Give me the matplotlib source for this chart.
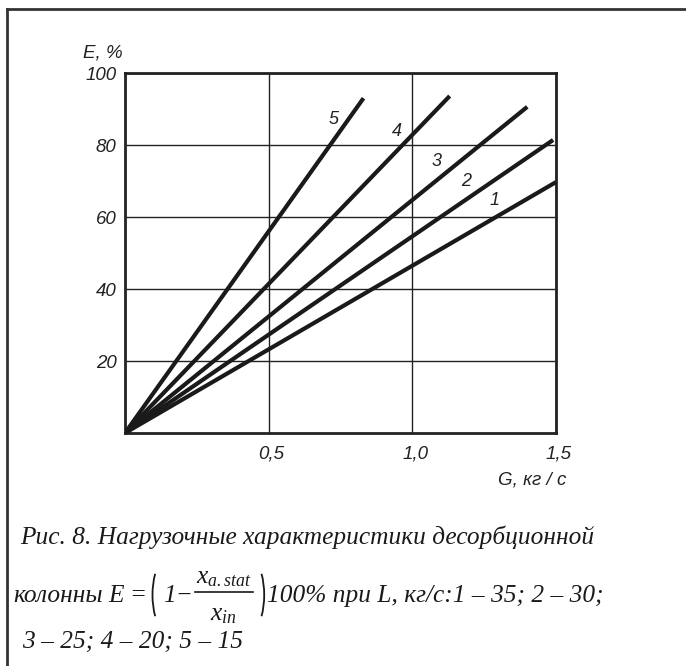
#!/usr/bin/env python3
"""Нагрузочные характеристики десорбционной колонны: E(G) при разных L"""
import matplotlib
matplotlib.use("Agg")
import matplotlib.pyplot as plt
from matplotlib.lines import Line2D
from matplotlib.patches import Arc
import matplotlib.transforms as mtransforms
import numpy as np

plt.rcParams["mathtext.fontset"] = "custom"
plt.rcParams["mathtext.rm"] = "Liberation Serif:italic"
plt.rcParams["mathtext.it"] = "Liberation Serif:italic"

# ---- данные: прямые из начала координат до конечных точек ----
curve_ids = ["1", "2", "3", "4", "5"]
g_end = [1.50, 1.49, 1.40, 1.13, 0.83]      # G, кг/с
e_end = [69.7, 81.4, 90.6, 93.6, 93.0]      # E, %
label_g = [1.30, 1.20, 1.10, 0.96, 0.74]    # где подписывать номер кривой

x_ticks = [0.5, 1.0, 1.5]
x_ticklabels = ["0,5", "1,0", "1,5"]
y_ticks = [20, 40, 60, 80, 100]

W, H = 686, 666
fig = plt.figure(figsize=(W / 100, H / 100), dpi=100)
ax = fig.add_axes([125 / W, 1 - 433 / H, 431 / W, 360 / H])

sans = dict(family="Liberation Sans", style="italic", color="#222222")

for cid, g1, e1, gl in zip(curve_ids, g_end, e_end, label_g):
    ax.plot([0, g1], [0, e1], color="#1a1a1a", lw=3.0, solid_capstyle="butt", zorder=3)
    el = e1 / g1 * gl
    ax.annotate(cid, xy=(gl, el), xytext=(-3, 11), textcoords="offset points",
                ha="center", va="center", fontsize=13, **sans)

ax.set_xlim(0, 1.5)
ax.set_ylim(0, 100)
ax.set_xticks(x_ticks)
ax.set_xticklabels(x_ticklabels)
ax.set_yticks(y_ticks)
ax.grid(True, color="#222222", lw=1.0)
ax.tick_params(length=0, labelsize=13.5, colors="#222222")
ax.tick_params(axis="x", pad=9)
ax.tick_params(axis="y", pad=6)
for lbl in ax.get_xticklabels() + ax.get_yticklabels():
    lbl.set_family("Liberation Sans")
    lbl.set_style("italic")
shift = mtransforms.ScaledTranslation(3 / 100, 0, fig.dpi_scale_trans)
for lbl in ax.get_xticklabels():
    lbl.set_transform(lbl.get_transform() + shift)
for sp in ax.spines.values():
    sp.set_linewidth(2.0)
    sp.set_color("#222222")

fig.text(123 / W, 1 - 53 / H, "E, %", ha="right", va="center", fontsize=13.5, **sans)
fig.text(566 / W, 1 - 480 / H, "G, кг / с", ha="right", va="center", fontsize=13.5, **sans)

# рамка рисунка (верх и левый край)
fig.add_artist(Line2D([7 / W, 1], [1 - 9 / H, 1 - 9 / H], color="#333333", lw=2))
fig.add_artist(Line2D([7 / W, 7 / W], [1 - 9 / H, 0], color="#333333", lw=2))

# ---- подпись ----
ink = "#1a1a1a"
serif = dict(family="Liberation Serif", style="italic", color=ink, fontsize=18.3)
renderer = fig.canvas.get_renderer()


def put(s, x, y, **kw):
    """текст от точки (x, y) в пикселях сверху-слева, возвращает правый край"""
    opts = dict(serif)
    opts.update(kw)
    t = fig.text(x / W, 1 - y / H, s, ha="left", va="baseline", **opts)
    return t.get_window_extent(renderer).x1


def paren(x, yc, h, left=True):
    a, half = 18, 55
    bulge = a * (1 - np.cos(np.radians(half)))
    cx = x + a if left else x + bulge - a
    th = (180 - half, 180 + half) if left else (-half, half)
    fig.add_artist(Arc((cx / W, 1 - yc / H), 2 * a / W, h / np.sin(np.radians(half)) / H,
                       theta1=th[0], theta2=th[1],
                       transform=fig.transFigure, color=ink, lw=1.3))
    return x + bulge


put("Рис. 8. Нагрузочные характеристики десорбционной", 20, 544)

base = 602
yc = 595
x = put("колонны", 13, base)
x = put("E =", x + 6, base)
x = paren(x + 5, yc, 66)
x = put("1−", x + 3, base)
# дробь x_a.stat / x_in
num = fig.text(0, 0, r"$x_{a.stat}$", **serif)
den = fig.text(0, 0, r"$x_{in}$", **serif)
wn = num.get_window_extent(renderer).width
wd = den.get_window_extent(renderer).width
wbar = max(wn, wd) + 2
xb = x + 2
num.set_position(((xb + wbar / 2) / W, 1 - 583 / H))
num.set_ha("center")
den.set_position(((xb + wbar / 2) / W, 1 - 620 / H))
den.set_ha("center")
fig.add_artist(Line2D([xb / W, (xb + wbar) / W], [1 - 592 / H] * 2, color=ink, lw=1.2))
x = paren(xb + wbar + 4, yc, 66, left=False)
put("100% при L, кг/с:1 – 35; 2 – 30;", x + 3, base)

put("3 – 25; 4 – 20; 5 – 15", 22, 648)

fig.savefig("out.png", dpi=100)
